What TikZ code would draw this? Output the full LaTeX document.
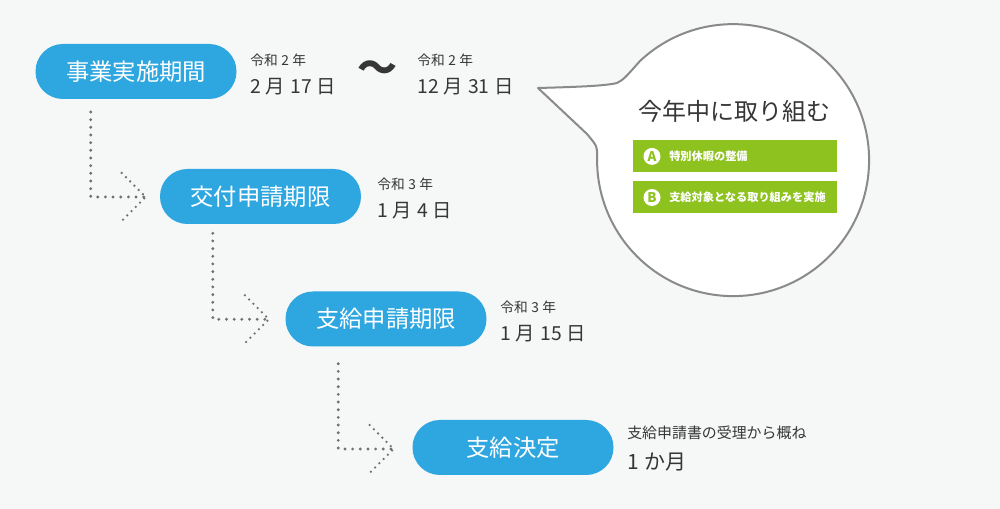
\documentclass[tikz,border=0pt]{standalone}
\usepackage{fontspec}
\setmainfont[WordSpace=1.15]{Noto Sans CJK JP}
\usepackage{tikz}
\usetikzlibrary{calc, positioning}
\definecolor{pagegray}{HTML}{F6F7F7}
\definecolor{stageblue}{HTML}{2EA7E0}
\definecolor{textdark}{HTML}{363636}
\definecolor{dotgray}{HTML}{707070}
\definecolor{bubbleline}{HTML}{8A8A8A}
\definecolor{itemgreen}{HTML}{8DC21F}

\begin{document}
\begin{tikzpicture}[
  x=0.75pt, y=-0.75pt,
  stage/.style={fill=stageblue, text=white, rounded corners=20.5pt, minimum width=150.75pt, minimum height=41.25pt, inner sep=0pt, font=\fontsize{17.5}{17.5}\selectfont},
  yr/.style={anchor=base west, inner sep=0pt, text=textdark, font=\fontsize{10.3}{10.3}\selectfont},
  dt/.style={anchor=base west, inner sep=0pt, text=textdark, font=\fontsize{14.5}{14.5}\selectfont},
  dots/.style={dotgray, line width=2.4pt, line cap=round, dash pattern=on 0pt off 5.75pt},
  wing/.style={dotgray, line width=1.9pt, line cap=round, dash pattern=on 0pt off 4.5pt},
  bubble/.style={fill=white, draw=bubbleline, line width=1.5pt, line join=round},
  item/.style={fill=itemgreen, minimum width=153pt, minimum height=24pt, inner sep=0pt},
  badge/.style={circle, fill=white, text=itemgreen, minimum size=12.75pt, inner sep=0pt, font=\fontsize{10}{10}\selectfont\bfseries},
  itemtext/.style={anchor=west, inner sep=0pt, text=white, font=\fontsize{8.4}{8.4}\selectfont\bfseries}
]
\fill[pagegray] (0,0) rectangle (1000,509);

% stages
\node[stage] (s1) at (136,71.5) {事業実施期間};
\node[stage] (s2) at (260.5,196.5) {交付申請期限};
\node[stage] (s3) at (386,319) {支給申請期限};
\node[stage] (s4) at (513,447.5) {支給決定};

% dates
\node[yr] (y1) at (250,66) {令和 2 年};
\node[dt] (d1) at (250,94) {2 月 17 日};
\node[text=textdark, inner sep=0pt, font=\fontsize{30}{30}\selectfont\bfseries] (til) at (377,72) {～};
\node[yr] (y1b) at (417,66) {令和 2 年};
\node[dt] (d1b) at (417,94) {12 月 31 日};
\node[yr] (y2) at (377,190) {令和 3 年};
\node[dt] (d2) at (377,218) {1 月 4 日};
\node[yr] (y3) at (500,313) {令和 3 年};
\node[dt] (d3) at (500,341) {1 月 15 日};
\node[yr, font=\fontsize{11.2}{11.2}\selectfont] (y4) at (627,439) {支給申請書の受理から概ね};
\node[dt, font=\fontsize{15.75}{15.75}\selectfont] (d4) at (627,470) {1 か月};

% dotted connectors
\coordinate (t2) at ($(s2.west)+(-14,0.5)$);
\coordinate (t3) at ($(s3.west)+(-16.4,0.3)$);
\coordinate (t4) at ($(s4.west)+(-18.7,1.5)$);
\draw[dots] ($(t2)+(-55,-85)$) |- (t2);
\draw[wing] ($(t2)+(-24,-24)$) -- (t2) -- ($(t2)+(-24,24)$);
\draw[dots] ($(t3)+(-56,-86)$) |- (t3);
\draw[wing] ($(t3)+(-24,-24)$) -- (t3) -- ($(t3)+(-24,24)$);
\draw[dots] ($(t4)+(-55.3,-85.3)$) |- (t4);
\draw[wing] ($(t4)+(-24,-24)$) -- (t4) -- ($(t4)+(-24,24)$);

% speech bubble
\draw[bubble] (538,88) .. controls (575,87) and (605,86) .. (617,83)
  .. controls (624,79) .. (640,61)
  arc[start angle=-133.2, end angle=182, radius=136]
  .. controls (597,146) .. (587,134) -- cycle;
\node[anchor=base, inner sep=0pt, text=textdark, font=\fontsize{18}{18}\selectfont] (ttl) at (734,121) {今年中に取り組む};
\node[item] (ia) at (734.7,156.4) {};
\node[item] (ib) at (734.7,197.5) {};
\node[badge] (ba) at (652,156.4) {A};
\node[badge] (bb) at (652,197.5) {B};
\node[itemtext] (la) at (669,156.4) {特別休暇の整備};
\node[itemtext] (lb) at (669,197.5) {支給対象となる取り組みを実施};
\end{tikzpicture}
\end{document}
